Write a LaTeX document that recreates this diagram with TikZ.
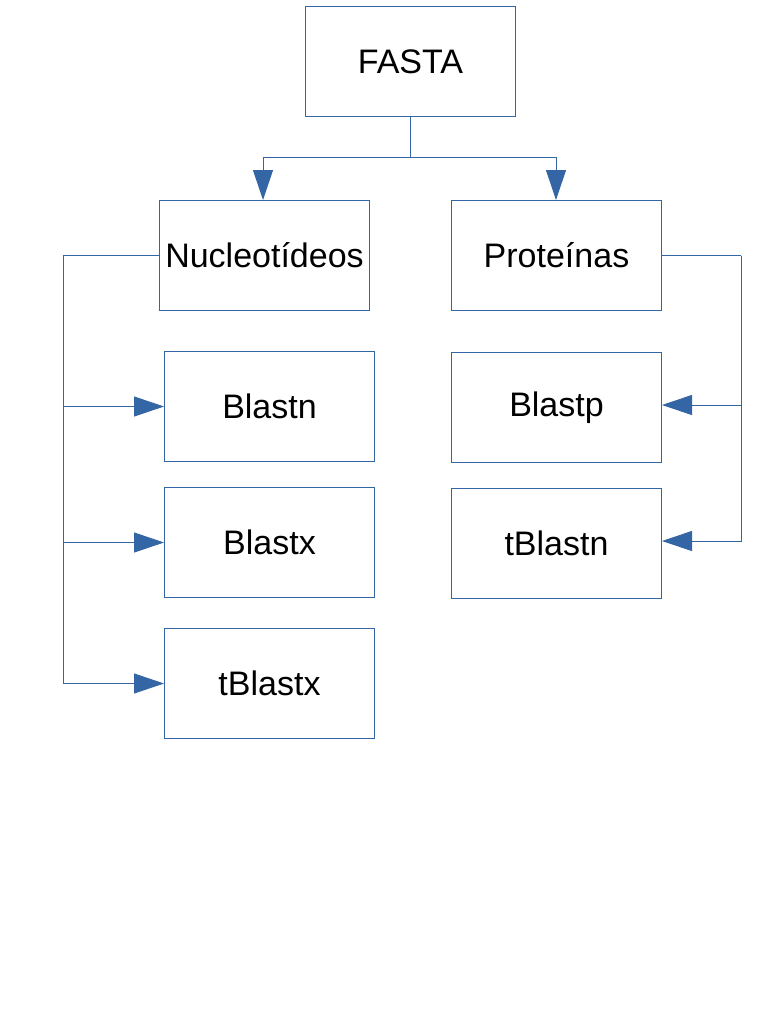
\documentclass[tikz,border=0pt]{standalone}
\usepackage{fontspec}
\setmainfont{Liberation Sans}
\usetikzlibrary{arrows.meta}
\definecolor{lblue}{HTML}{3465A4}
\begin{document}
\begin{tikzpicture}[x=1pt,y=-1pt,
  box/.style={draw=lblue, line width=1pt, minimum width=210pt, minimum height=110pt, inner sep=0pt, font=\fontsize{34}{40}\selectfont, anchor=north west},
  conn/.style={draw=lblue, line width=1pt},
  arr/.style={conn, -{Triangle[length=30pt,width=20pt]}}]
\fill[white] (0,0) rectangle (764,1018);
\useasboundingbox (0,0) rectangle (764,1018);
\node[box] (fasta) at (305,6) {FASTA};
\node[box] (nuc) at (159,200) {Nucleotídeos};
\node[box] (prot) at (451,200) {Proteínas};
\node[box] (blastn) at (164,351) {Blastn};
\node[box] (blastx) at (164,487) {Blastx};
\node[box] (tblastx) at (164,628) {tBlastx};
\node[box] (blastp) at (451,352) {Blastp};
\node[box] (tblastn) at (451,488) {tBlastn};
\coordinate (split) at (fasta.south |- 0,157);
\coordinate (lbus) at (nuc.west -| 63,0);
\coordinate (rbus) at (prot.east -| 741,0);
\draw[conn] (fasta.south) -- (split);
\draw[arr] (split) -| (nuc.north -| 263,0);
\draw[arr] (split) -| (prot.north -| 556,0);
\draw[conn] (nuc.west) -- (lbus);
\draw[arr] (lbus) |- (blastn.west);
\draw[arr] (lbus) |- (blastx.west);
\draw[arr] (lbus) |- (tblastx.west);
\draw[conn] (prot.east) -- (rbus);
\draw[arr] (rbus) |- (blastp.east |- 0,405);
\draw[arr] (rbus) |- (tblastn.east |- 0,541);
\end{tikzpicture}
\end{document}
